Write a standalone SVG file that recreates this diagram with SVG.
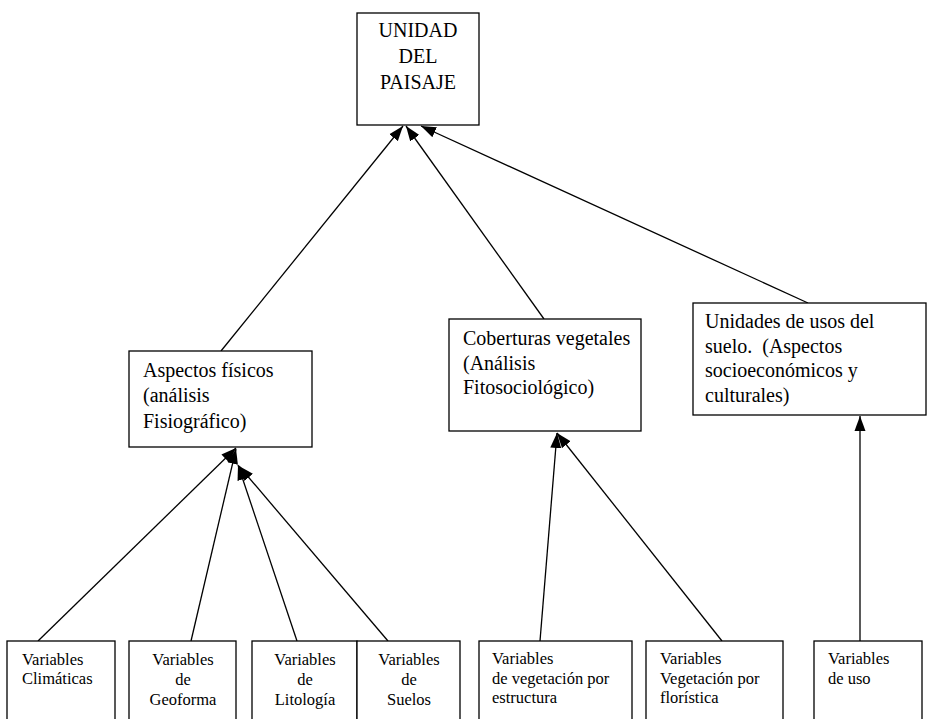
<svg xmlns="http://www.w3.org/2000/svg" width="928" height="719" viewBox="0 0 928 719">
  <style>
    .box { fill: #ffffff; stroke: #000000; stroke-width: 1.3; }
    .t { font-family: "Liberation Serif", "Times New Roman", serif; fill: #000000; }
    .big { font-size: 20px; }
    .small { font-size: 16.5px; }
    .mid { text-anchor: middle; }
    .edge { stroke: #000000; stroke-width: 1.3; fill: none; marker-end: url(#arrow); }
  </style>
  <defs>
    <marker id="arrow" markerUnits="userSpaceOnUse" markerWidth="16" markerHeight="12" refX="15" refY="6" orient="auto">
      <path d="M0,0.5 L15,6 L0,11.5 z" fill="#000000"/>
    </marker>
  </defs>

  <rect width="928" height="719" fill="#ffffff"/>

  <!-- connectors -->
  <g id="connectors">
    <line class="edge" x1="221" y1="351" x2="403" y2="126"/>
    <line class="edge" x1="544" y1="319" x2="406" y2="126"/>
    <line class="edge" x1="808" y1="303" x2="421" y2="126"/>
    <line class="edge" x1="38" y1="641" x2="236" y2="448"/>
    <line class="edge" x1="191" y1="641" x2="236" y2="449"/>
    <line class="edge" x1="297" y1="641" x2="238" y2="465"/>
    <line class="edge" x1="388" y1="641" x2="239" y2="466"/>
    <line class="edge" x1="540" y1="641" x2="557" y2="433"/>
    <line class="edge" x1="722" y1="641" x2="557" y2="433"/>
    <line class="edge" x1="860" y1="641" x2="860" y2="416"/>
  </g>

  <!-- top node -->
  <g id="unidad-paisaje">
    <rect class="box" x="357" y="13" width="122" height="112"/>
    <text class="t big mid" x="418" y="37">UNIDAD</text>
    <text class="t big mid" x="418" y="63">DEL</text>
    <text class="t big mid" x="418" y="89">PAISAJE</text>
  </g>

  <!-- middle nodes -->
  <g id="aspectos-fisicos">
    <rect class="box" x="129" y="351" width="183" height="96"/>
    <text class="t big" x="143" y="377">Aspectos físicos</text>
    <text class="t big" x="143" y="402">(análisis</text>
    <text class="t big" x="143" y="428">Fisiográfico)</text>
  </g>

  <g id="coberturas-vegetales">
    <rect class="box" x="449" y="319" width="192" height="112"/>
    <text class="t big" x="463" y="345">Coberturas vegetales</text>
    <text class="t big" x="463" y="370">(Análisis</text>
    <text class="t big" x="463" y="394">Fitosociológico)</text>
  </g>

  <g id="unidades-usos">
    <rect class="box" x="693" y="303" width="233" height="112"/>
    <text class="t big" x="705" y="328">Unidades de usos del</text>
    <text class="t big" x="705" y="353" xml:space="preserve">suelo.  (Aspectos</text>
    <text class="t big" x="705" y="377">socioeconómicos y</text>
    <text class="t big" x="705" y="402">culturales)</text>
  </g>

  <!-- bottom nodes -->
  <g id="var-climaticas">
    <rect class="box" x="7" y="641" width="108" height="100"/>
    <text class="t small" x="22" y="665">Variables</text>
    <text class="t small" x="22" y="684">Climáticas</text>
  </g>

  <g id="var-geoforma">
    <rect class="box" x="129" y="641" width="107" height="100"/>
    <text class="t small mid" x="183" y="665">Variables</text>
    <text class="t small mid" x="183" y="685">de</text>
    <text class="t small mid" x="183" y="705">Geoforma</text>
  </g>

  <g id="var-litologia">
    <rect class="box" x="252" y="641" width="105" height="100"/>
    <text class="t small mid" x="305" y="665">Variables</text>
    <text class="t small mid" x="305" y="685">de</text>
    <text class="t small mid" x="305" y="705">Litología</text>
  </g>

  <g id="var-suelos">
    <rect class="box" x="357" y="641" width="103" height="100"/>
    <text class="t small mid" x="409" y="665">Variables</text>
    <text class="t small mid" x="409" y="685">de</text>
    <text class="t small mid" x="409" y="705">Suelos</text>
  </g>

  <g id="var-estructura">
    <rect class="box" x="479" y="641" width="153" height="100"/>
    <text class="t small" x="492" y="664">Variables</text>
    <text class="t small" x="492" y="684">de vegetación por</text>
    <text class="t small" x="492" y="703">estructura</text>
  </g>

  <g id="var-floristica">
    <rect class="box" x="646" y="641" width="137" height="100"/>
    <text class="t small" x="660" y="664">Variables</text>
    <text class="t small" x="660" y="684">Vegetación por</text>
    <text class="t small" x="660" y="703">florística</text>
  </g>

  <g id="var-uso">
    <rect class="box" x="814" y="641" width="108" height="100"/>
    <text class="t small" x="828" y="664">Variables</text>
    <text class="t small" x="828" y="684">de uso</text>
  </g>
</svg>
